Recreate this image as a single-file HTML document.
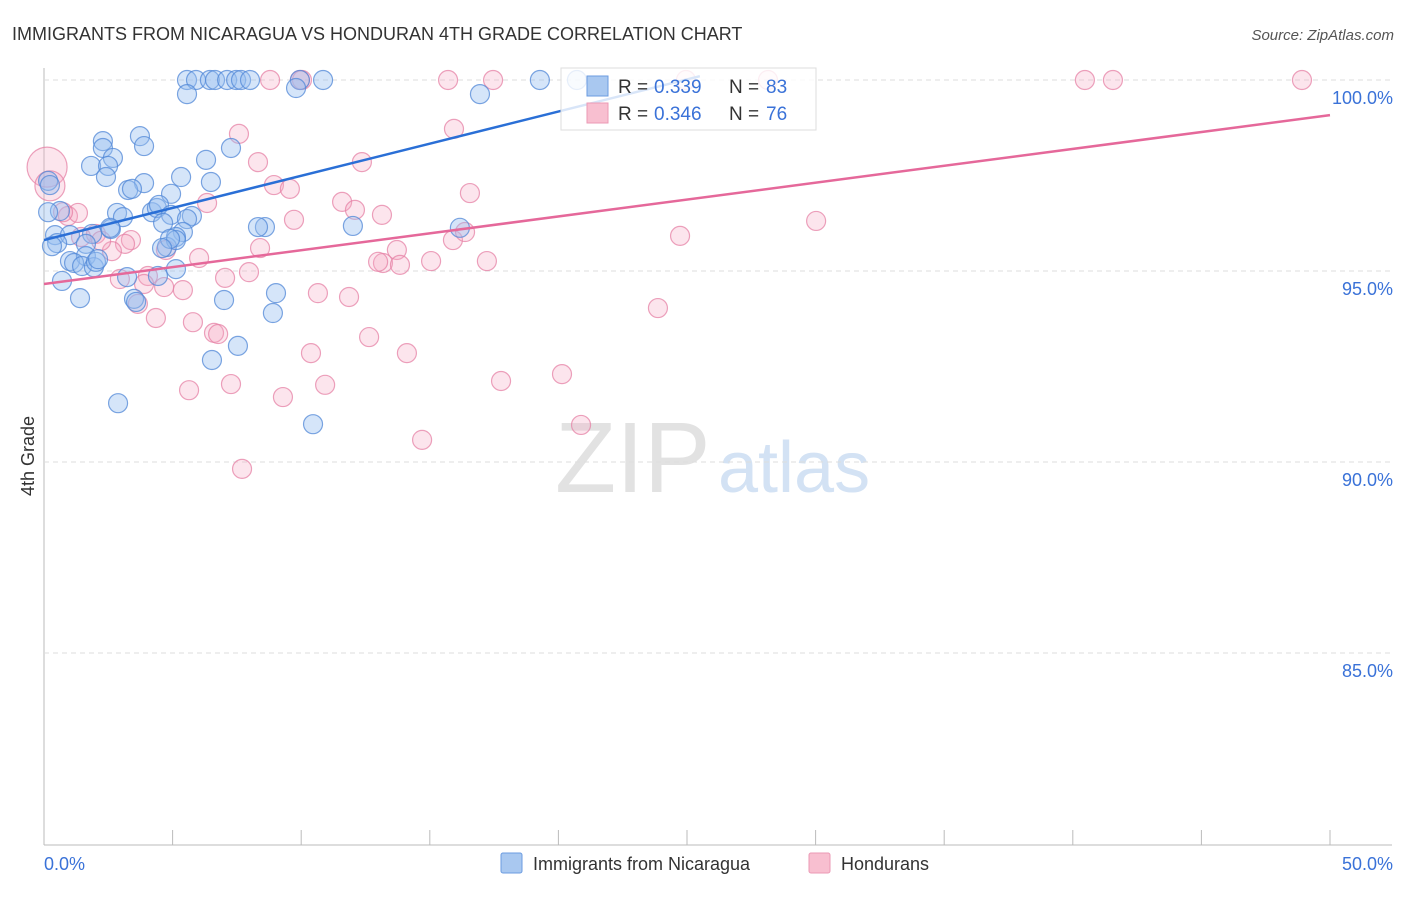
<!DOCTYPE html>
<html><head><meta charset="utf-8"><style>
body{margin:0;background:#fff;font-family:"Liberation Sans",sans-serif}
svg text{font-family:"Liberation Sans",sans-serif}
</style></head><body>
<svg id="c" width="1406" height="892">
<text x="12" y="40" font-size="18" fill="#333">IMMIGRANTS FROM NICARAGUA VS HONDURAN 4TH GRADE CORRELATION CHART</text>
<text x="1394" y="40" font-size="15" fill="#555" font-style="italic" text-anchor="end">Source: ZipAtlas.com</text>
<text x="34" y="456" font-size="18" fill="#333" transform="rotate(-90 34 456)" text-anchor="middle">4th Grade</text>
<text x="555" y="492" font-size="100" fill="#e2e2e2" font-family="Liberation Serif">ZIP</text>
<text x="718" y="492" font-size="72" fill="#d3e2f4">atlas</text>
<g id="grid"></g><g id="pts"></g><g id="lines"></g>
<g>
<rect x="561" y="68" width="255" height="62" fill="rgba(255,255,255,0.82)" stroke="#ddd"/>
<rect x="587" y="76" width="21" height="20" fill="#a9c8f0" stroke="#6b9be0"/>
<rect x="587" y="103" width="21" height="20" fill="#f8bfd0" stroke="#eb9ab5"/>
<text x="618" y="93" font-size="19" fill="#333">R =</text><text x="654" y="93" font-size="19" fill="#3a72d8">0.339</text>
<text x="729" y="93" font-size="19" fill="#333">N =</text><text x="766" y="93" font-size="19" fill="#3a72d8">83</text>
<text x="618" y="120" font-size="19" fill="#333">R =</text><text x="654" y="120" font-size="19" fill="#3a72d8">0.346</text>
<text x="729" y="120" font-size="19" fill="#333">N =</text><text x="766" y="120" font-size="19" fill="#3a72d8">76</text>
</g>
<g>
<rect x="501" y="853" width="21" height="20" fill="#a9c8f0" stroke="#6b9be0" rx="2"/>
<text x="533" y="870" font-size="18" fill="#333">Immigrants from Nicaragua</text>
<rect x="809" y="853" width="21" height="20" fill="#f8bfd0" stroke="#eb9ab5" rx="2"/>
<text x="841" y="870" font-size="18" fill="#333">Hondurans</text>
</g>
</svg>
<script>
const yTicks=[100,95,90,85];
const yTickLabels=["100.0%","95.0%","90.0%","85.0%"];
const xTickLabels=["0.0%","50.0%"];
const blueX=[5.56,5.91,6.45,6.65,7.12,7.47,7.66,8.01,9.95,10.85,19.28,20.72,5.56,9.8,16.95,3.73,2.29,3.89,2.29,7.27,1.83,2.68,6.3,2.49,2.41,6.49,5.33,3.89,3.27,3.42,4.94,0.16,0.23,0.62,2.84,3.07,4.2,4.39,4.47,4.94,5.75,5.56,4.63,5.4,5.13,8.59,12.01,16.17,0.16,0.43,1.01,0.51,0.31,1.87,2.6,1.63,1.01,1.63,1.17,1.48,1.94,2.02,2.1,5.13,3.23,0.7,4.43,4.78,5.13,1.4,3.5,3.58,7.0,9.02,8.9,7.54,6.53,2.88,10.46,8.32,2.57,4.9,4.59];
const blueY=[100,100,100,100,100,100,100,100,100,100,100,100,99.63,99.79,99.63,98.53,98.4,98.27,98.22,98.22,97.75,97.96,97.91,97.75,97.46,97.33,97.46,97.3,97.12,97.15,97.02,97.36,97.25,96.57,96.52,96.41,96.54,96.65,96.73,96.47,96.44,96.36,96.26,96.02,95.89,96.15,96.18,96.13,96.54,95.94,95.94,95.73,95.65,95.97,96.1,95.71,95.26,95.39,95.21,95.13,95.1,95.24,95.31,95.05,94.84,94.74,94.87,95.63,95.81,94.29,94.27,94.19,94.24,94.42,93.9,93.04,92.67,91.54,90.99,96.15,96.13,95.84,95.6];
const pinkX=[0.12,0.23,8.79,10.03,9.95,15.71,17.46,40.47,41.56,48.91,24.96,28.15,7.58,15.94,8.32,12.36,8.94,9.56,16.56,11.59,12.09,13.14,30.02,6.34,9.72,0.93,1.32,0.74,1.44,2.02,3.38,3.15,2.64,2.22,6.03,8.4,4.74,13.72,13.18,13.84,12.99,15.05,17.22,15.9,16.37,24.73,4.04,7.04,7.97,2.95,3.89,4.67,5.4,3.65,4.35,5.79,6.61,6.77,23.87,10.65,11.86,10.38,12.64,14.11,7.27,5.64,9.29,10.93,17.77,20.14,7.7,14.7,20.88];
const pinkY=[97.72,97.23,100,100,100,100,100,100,100,100,100,100,98.59,98.72,97.85,97.85,97.25,97.15,97.04,96.81,96.6,96.47,96.31,96.78,96.34,96.44,96.52,96.54,95.89,95.97,95.81,95.71,95.52,95.79,95.34,95.6,95.55,95.55,95.21,95.16,95.24,95.26,95.26,95.81,96.02,95.92,94.87,94.82,94.97,94.79,94.66,94.58,94.5,94.14,93.77,93.66,93.38,93.35,94.03,94.42,94.32,92.85,93.27,92.85,92.04,91.88,91.7,92.02,92.12,92.3,89.82,90.58,90.97];
const blueTrend=[[0,95.81],[25.5,100.1]];
const pinkTrend=[[0,94.66],[50,99.08]];
const X=v=>44+v*25.72, Y=v=>80+(100-v)*38.2;
const NS="http://www.w3.org/2000/svg";
function mk(t,a,p){const e=document.createElementNS(NS,t);for(const k in a)e.setAttribute(k,a[k]);p.appendChild(e);return e;}
const g=document.getElementById('grid');
mk('line',{x1:44,y1:68,x2:44,y2:845,stroke:'#bbb'},g);
mk('line',{x1:44,y1:845,x2:1392,y2:845,stroke:'#bbb'},g);
yTicks.forEach((t,i)=>{const l=mk('line',{x1:44,y1:Y(t),x2:1392,y2:Y(t),stroke:'#ddd','stroke-dasharray':'5,4'},g);


const tx=mk('text',{x:1393,y:Y(t)+24,'font-size':18,fill:'#3a72d8','text-anchor':'end'},g);tx.textContent=yTickLabels[i];

});
for(let i=0;i<=10;i++){const l=mk('line',{x1:X(i*5),y1:830,x2:X(i*5),y2:845,stroke:'#bbb'},g);

}
[[0,'start',44],[50,'end',1393]].forEach((d,i)=>{const t=mk('text',{x:d[2],y:870,'font-size':18,fill:'#3a72d8','text-anchor':d[1]},g);t.textContent=xTickLabels[i];

});
const p=document.getElementById('pts');
pinkX.forEach((x,i)=>{const c=mk('circle',{cx:X(x),cy:Y(pinkY[i]),r:i==0?20:(i==1?15:9.5),fill:'rgba(245,170,195,0.3)',stroke:'rgba(230,130,165,0.75)','stroke-width':1.2},p);

});
blueX.forEach((x,i)=>{const c=mk('circle',{cx:X(x),cy:Y(blueY[i]),r:9.5,fill:'rgba(150,190,240,0.4)',stroke:'rgba(80,135,215,0.75)','stroke-width':1.2},p);

});
const L=document.getElementById('lines');
const bl=mk('line',{x1:X(blueTrend[0][0]),y1:Y(blueTrend[0][1]),x2:X(blueTrend[1][0]),y2:Y(blueTrend[1][1]),stroke:'#2a6fd6','stroke-width':2.5},L);


const pl=mk('line',{x1:X(pinkTrend[0][0]),y1:Y(pinkTrend[0][1]),x2:X(pinkTrend[1][0]),y2:Y(pinkTrend[1][1]),stroke:'#e5689a','stroke-width':2.5},L);


</script>
</body></html>
